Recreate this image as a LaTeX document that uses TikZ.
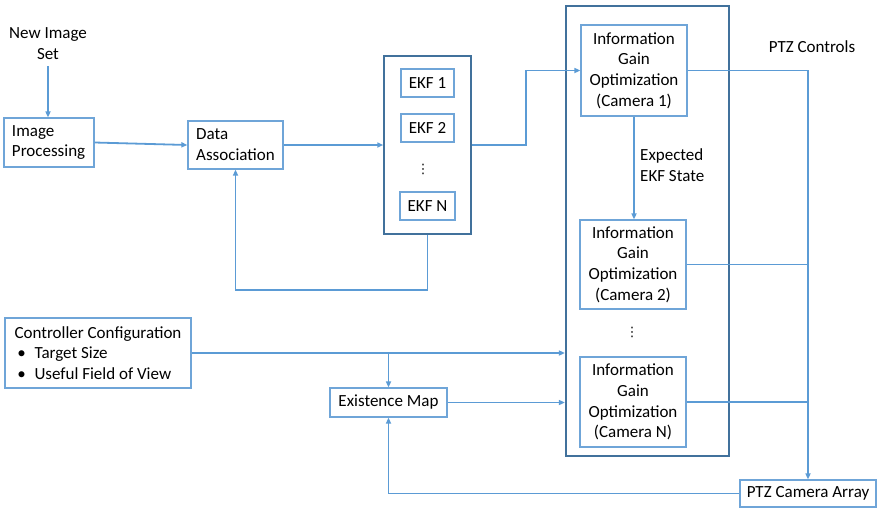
\documentclass[tikz,border=0pt]{standalone}
\usepackage{fontspec}
\setmainfont{Carlito}
\newfontfamily\dvsans{DejaVu Sans}
\usetikzlibrary{arrows.meta}
\definecolor{lnc}{HTML}{5B9BD5}
\definecolor{boxc}{HTML}{6FA5D8}
\definecolor{contc}{HTML}{41719C}
\begin{document}
\begin{tikzpicture}[x=1pt,y=1pt,
  every node/.style={font=\fontsize{17}{20.8}\selectfont, inner sep=0pt},
  box/.style={draw=boxc, line width=1.2pt, fill=white, align=center},
  lbox/.style={draw=boxc, line width=1.2pt, fill=white, align=left},
  cont/.style={draw=contc, line width=1.5pt},
  bigcont/.style={draw=contc, line width=2.2pt},
  conn/.style={draw=lnc, line width=1.8pt},
  arr/.style={conn, -{Triangle[length=6pt,width=5pt]}},
  lbl/.style={align=center},
  vdt/.style={font=\dvsans\fontsize{13}{14}\selectfont}
]
\useasboundingbox (0,0) rectangle (877,-509);
% containers
\node[bigcont, minimum width=163pt, minimum height=450pt] (big) at (647.5,-231) {};
\node[cont, minimum width=87pt, minimum height=178pt] (ekfbox) at (427.5,-145) {};
% nodes
\node[lbl] (newimg) at (48,-44) {New Image\\Set};
\node[lbox, minimum width=90pt, minimum height=49pt] (ip) at (49,-142.5) {\raisebox{-2pt}{\parbox{74pt}{Image\\Processing}}};
\node[lbox, minimum width=95pt, minimum height=48pt] (da) at (235.5,-145) {Data\\Association};
\node[box, minimum width=53pt, minimum height=28pt] (ekf1) at (427.5,-83) {EKF 1};
\node[box, minimum width=53pt, minimum height=28pt] (ekf2) at (427.5,-128) {EKF 2};
\node[vdt] (ekfdots) at (423,-169) {⋮};
\node[box, minimum width=55pt, minimum height=28pt] (ekfN) at (427.5,-206) {EKF N};
\node[box, minimum width=106pt, minimum height=91pt] (igo1) at (634,-70.5) {Information\\Gain\\Optimization\\(Camera 1)};
\node[box, minimum width=106pt, minimum height=89pt] (igo2) at (633,-264.5) {Information\\Gain\\Optimization\\(Camera 2)};
\node[vdt] (igodots) at (632,-332) {⋮};
\node[box, minimum width=106pt, minimum height=90pt] (igoN) at (633,-402) {Information\\Gain\\Optimization\\(Camera N)};
\node[lbox, minimum width=186pt, minimum height=70pt] (cc) at (98,-353) {Controller Configuration\\\makebox[20pt][l]{\,•}Target Size\\\makebox[20pt][l]{\,•}Useful Field of View};
\node[box, minimum width=117pt, minimum height=29pt] (em) at (388.5,-402.5) {Existence Map};
\node[box, minimum width=136pt, minimum height=27pt] (ptz) at (808,-493.5) {PTZ Camera Array};
\node[lbl] (ptzctl) at (812,-47) {PTZ Controls};
\node[align=left, anchor=west] (exp) at (640,-165) {Expected\\EKF State};
% connectors
\draw[arr] (newimg.south) ++(0,-6) coordinate (nis) -- (nis |- ip.north);
\draw[arr] (ip.east) -- (da.west);
\draw[arr] (da.east) -- (ekfbox.west);
\draw[arr] (ekfbox.south) -- ++(0,-55) -| (da.south);
\draw[arr] (ekfbox.east) -- ++(54,0) |- (igo1.west);
\draw[arr] (igo1.south) -- (igo1.south |- igo2.north);
\draw[arr] (igo1.east) -| (ptz.north);
\draw[conn] (igo2.east) -- (igo2.east -| ptz.north);
\draw[conn] (igoN.east) -- (igoN.east -| ptz.north);
\draw[arr] (ptz.west) -| (em.south);
\draw[arr] (cc.east) -- (cc.east -| big.west);
\draw[arr] (em.north |- cc.east) -- (em.north);
\draw[arr] (em.east) -- (em.east -| big.west);
\end{tikzpicture}
\end{document}
